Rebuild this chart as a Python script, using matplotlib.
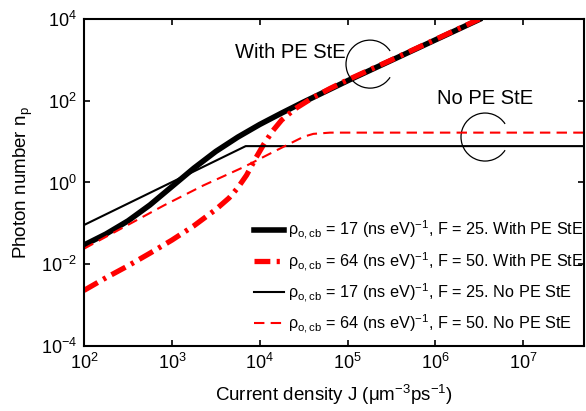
import numpy as np
import matplotlib
matplotlib.use("Agg")
from matplotlib import pyplot as plt
from matplotlib.patches import Arc

plt.rcParams['font.family'] = ['Liberation Sans', 'DejaVu Sans']
plt.rcParams['mathtext.fontset'] = 'custom'
plt.rcParams['mathtext.rm'] = 'Liberation Sans'
plt.rcParams['mathtext.it'] = 'Liberation Sans:italic'
plt.rcParams['mathtext.bf'] = 'Liberation Sans:bold'

# log10 of current density J and photon number n_p
logJ_pe17 = [2.0, 2.25, 2.5, 2.75, 3.0, 3.25, 3.5, 3.75, 4.0, 4.25, 4.5, 4.75,
             5.0, 5.5, 6.0, 6.5]
logn_pe17 = [-1.53, -1.26, -0.94, -0.55, -0.10, 0.35, 0.76, 1.11, 1.42, 1.70, 1.97, 2.23,
             2.49, 2.99, 3.49, 3.99]

logJ_pe64 = [2.0, 2.25, 2.5, 2.75, 3.0, 3.25, 3.5, 3.65, 3.75, 3.85, 3.95, 4.05,
             4.15, 4.25, 4.4, 4.6, 4.8, 5.0, 5.5, 6.0, 6.5]
logn_pe64 = [-2.64, -2.33, -2.04, -1.73, -1.41, -1.06, -0.66, -0.38, -0.13, 0.18, 0.58, 0.95,
             1.27, 1.53, 1.8, 2.07, 2.3, 2.51, 3.0, 3.5, 4.0]

logJ_no17 = [2.0, 3.84, 7.7]
logn_no17 = [-1.04, 0.89, 0.89]

logJ_no64 = [2.0, 2.455, 2.91, 3.36, 3.82, 4.12, 4.35, 4.5, 4.61, 4.8, 7.7]
logn_no64 = [-1.62, -1.09, -0.56, -0.07, 0.38, 0.71, 0.96, 1.12, 1.19, 1.22, 1.22]

labels = [
    r'ρ$_{\mathrm{o,cb}}$ = 17 (ns eV)$^{-1}$, F = 25. With PE StE',
    r'ρ$_{\mathrm{o,cb}}$ = 64 (ns eV)$^{-1}$, F = 50. With PE StE',
    r'ρ$_{\mathrm{o,cb}}$ = 17 (ns eV)$^{-1}$, F = 25. No PE StE',
    r'ρ$_{\mathrm{o,cb}}$ = 64 (ns eV)$^{-1}$, F = 50. No PE StE',
]

fig = plt.figure(figsize=(5.86, 4.11), dpi=100)
ax = fig.add_axes([84/586, 65/411, 500/586, 327/411])

p = lambda v: np.power(10.0, v)
ax.plot(p(logJ_pe17), p(logn_pe17), color='k', lw=4.0, label=labels[0])
ax.plot(p(logJ_pe64), p(logn_pe64), color='r', lw=3.8,
        dashes=(3.0, 1.2, 0.6, 1.2), label=labels[1])
ax.plot(p(logJ_no17), p(logn_no17), color='k', lw=1.5, label=labels[2])
ax.plot(p(logJ_no64), p(logn_no64), color='r', lw=1.5,
        dashes=(5, 3), label=labels[3])

ax.set_xscale('log')
ax.set_yscale('log')
ax.set_xlim(1e2, 10**7.69)
ax.set_ylim(1e-4, 1e4)
ax.set_xticks([1e2, 1e3, 1e4, 1e5, 1e6, 1e7])
ax.set_yticks([1e-4, 1e-2, 1e0, 1e2, 1e4])
ax.minorticks_off()
ax.tick_params(direction='in', top=True, right=True, length=4, width=1.2,
               labelsize=13, pad=5)
for s in ax.spines.values():
    s.set_linewidth(1.5)

ax.set_xlabel(r'Current density J ($\mathrm{\mu}$m$^{-3}$ps$^{-1}$)', fontsize=13.5, labelpad=7)
ax.set_ylabel(r'Photon number n$_\mathrm{p}$', fontsize=13.5, labelpad=4)

# annotations with open arcs
ax.text(0.412, 0.899, 'With PE StE', transform=ax.transAxes, fontsize=14.5,
        ha='center', va='center')
ax.text(0.802, 0.758, 'No PE StE', transform=ax.transAxes, fontsize=14.5,
        ha='center', va='center')
r = 24
for cx, cy in [(0.572, 0.862), (0.802, 0.639)]:
    ax.add_patch(Arc((cx, cy), 2*r/500, 2*r/327, theta1=45, theta2=315,
                     transform=ax.transAxes, color='k', lw=0.9))

ax.legend(loc='upper left', bbox_to_anchor=(0.34, 0.39), frameon=False,
          fontsize=11.7, handlelength=1.85, handletextpad=0.25, labelspacing=0.5,
          borderpad=0, borderaxespad=0)

fig.savefig('out.png', dpi=100)
